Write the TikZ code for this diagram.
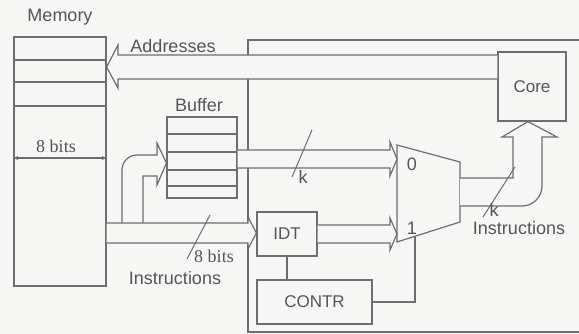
\documentclass[tikz,border=0pt]{standalone}
\usepackage{fontspec}
\setmainfont{Liberation Sans}
\newfontfamily\serifm{Liberation Serif}
\usetikzlibrary{calc,arrows.meta}
\definecolor{ln}{HTML}{6E6E6E}
\definecolor{tx}{HTML}{555555}
\definecolor{bg}{HTML}{F7F7F5}
\begin{document}
\begin{tikzpicture}[x=1pt,y=-1pt, line width=1.2pt,
  box/.style={draw=ln, fill=bg, inner sep=0pt, font=\fontsize{17}{19}\selectfont, text=tx},
  lbl/.style={inner sep=0pt, font=\fontsize{18}{20}\selectfont, text=tx},
  serlbl/.style={inner sep=0pt, font=\serifm\fontsize{18}{20}\selectfont, text=tx},
  fat/.style={draw=ln, fill=bg, line join=miter},
  slash/.style={draw=ln, line width=1pt}]
\fill[bg] (0,0) rectangle (579,334);
\useasboundingbox (0,0) rectangle (579,334);

% enclosure of the chip
\draw[ln] (580,40) -- (248,40) -- (248,332) -- (580,332);

% memory
\node[box, minimum width=92pt, minimum height=249pt] (mem) at (60,161.5) {};
\foreach \yy in {60,82,106} \draw[ln] (mem.west |- 0,\yy) -- (mem.east |- 0,\yy);
\draw[ln, {Stealth[length=5pt,width=4pt]}-{Stealth[length=5pt,width=4pt]}] (mem.west |- 0,158) -- (mem.east |- 0,158);
\node[lbl] (memlbl) at (60,17) {Memory};
\node[serlbl] (bits1) at (56,146) {8 bits};

% buffer
\node[box, minimum width=70pt, minimum height=81pt] (buf) at (202,157.5) {};
\foreach \yy in {134,152,170,186} \draw[ln] (buf.west |- 0,\yy) -- (buf.east |- 0,\yy);
\node[lbl] (buflbl) at (199,105) {Buffer};

% core, IDT, CONTR
\node[box, minimum width=68pt, minimum height=69pt] (core) at (532,86.5) {Core};
\node[box, minimum width=60pt, minimum height=44pt] (idt) at (287,234) {IDT};
\node[box, minimum width=115pt, minimum height=44pt] (contr) at (314.5,302) {CONTR};

% multiplexer
\draw[ln, fill=bg] (397,145) coordinate (mtl) -- (460,162) coordinate (mtr)
  -- (460,222) coordinate (mbr) -- (397,242) coordinate (mbl) -- cycle;
\node[lbl] (m0) at (412,164) {0};
\node[lbl] (m1) at (412,228) {1};
\coordinate (msel) at ($(mbl)!0.286!(mbr)$);

% branches from the instruction bus into the buffer
\path[fat] (122,224) -- (122,170) arc[start angle=180,end angle=270,radius=15] -- (157,155)
  -- (157,143) -- (buf.west |- 0,163) -- (157,185) -- (157,176) -- (143,176) -- (143,224);

% instruction bus memory -> IDT
\path[fat] (mem.east |- 0,223) -- (248,223) -- (248,217) -- (idt.west |- 0,233)
  -- (248,249) -- (248,243) -- (mem.east |- 0,243);

% addresses core -> memory
\path[fat] (core.west |- 0,55) -- (118,55) -- (118,45) -- (mem.east |- 0,67)
  -- (118,88) -- (118,79) -- (core.west |- 0,79);

% buffer -> mux input 0
\path[fat] (buf.east |- 0,150) -- (390,150) -- (390,142) -- (mtl |- 0,159)
  -- (390,176) -- (390,168) -- (buf.east |- 0,168);

% IDT -> mux input 1
\path[fat] (idt.east |- 0,225) -- (390,225) -- (390,218) -- (mtl |- 0,234)
  -- (390,250) -- (390,243) -- (idt.east |- 0,243);

% mux -> core
\path[fat] (mtr |- 0,178) -- (513,178) -- (513,137) -- (502,137) -- ($(core.south)+(-4,0)$)
  -- (557,137) -- (542,137) -- (542,186) arc[start angle=0,end angle=90,radius=20] -- (mtr |- 0,206);

% control lines
\draw[ln] (idt.south) -- (contr.north -| idt.south);
\draw[ln] (contr.east) -| (msel);

% labels and width marks
\node[lbl] (addr) at (173,46) {Addresses};
\draw[slash] (312,130) -- (292,177);
\node[lbl] (k1) at (303,177) {k};
\draw[slash] (210,215) -- (187,259);
\node[serlbl] (bits2) at (214,256) {8 bits};
\node[lbl] (instr1) at (175,278) {Instructions};
\draw[slash] (515,167) -- (483,217);
\node[lbl] (k2) at (494,210) {k};
\node[lbl] (instr2) at (519,228) {Instructions};
\end{tikzpicture}
\end{document}
